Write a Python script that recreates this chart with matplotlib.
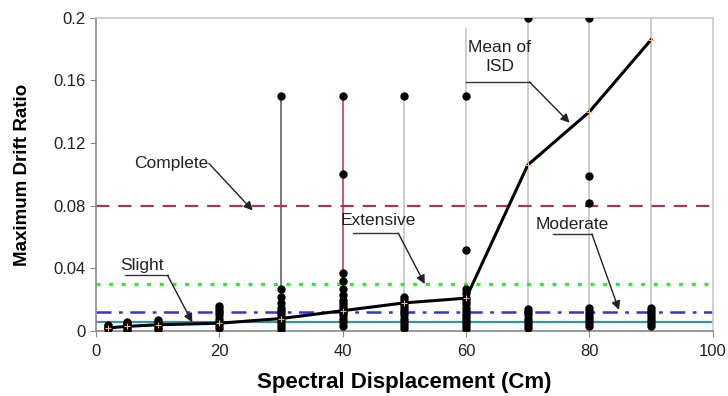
import numpy as np
import matplotlib.pyplot as plt

plt.rcParams['font.family'] = ['Liberation Sans', 'DejaVu Sans']

# spectral displacement stations (cm)
sd = [2, 5, 10, 20, 30, 40, 50, 60, 70, 80, 90]

# maximum drift ratio of each record at every station
drift = [
    [0.001, 0.002, 0.003, 0.004],
    [0.0005, 0.002, 0.003, 0.004, 0.005, 0.006],
    [0.001, 0.002, 0.004, 0.005, 0.006, 0.007],
    [0.002, 0.004, 0.006, 0.008, 0.010, 0.012, 0.014, 0.016],
    [0.001, 0.003, 0.005, 0.007, 0.009, 0.011, 0.013, 0.015, 0.018, 0.022, 0.027, 0.15],
    [0.003, 0.006, 0.008, 0.010, 0.012, 0.014, 0.016, 0.018, 0.020, 0.023, 0.027,
     0.032, 0.037, 0.10, 0.15],
    [0.002, 0.004, 0.006, 0.008, 0.010, 0.012, 0.014, 0.016, 0.018, 0.020, 0.022, 0.15],
    [0.001, 0.003, 0.005, 0.007, 0.009, 0.011, 0.013, 0.015, 0.017, 0.019, 0.021,
     0.024, 0.027, 0.052, 0.15],
    [0.002, 0.004, 0.006, 0.008, 0.010, 0.012, 0.014, 0.2],
    [0.003, 0.005, 0.007, 0.009, 0.011, 0.013, 0.015, 0.082, 0.099, 0.2],
    [0.003, 0.005, 0.007, 0.009, 0.011, 0.013, 0.015],
]

# top of the range line drawn at each station
range_top = [0.004, 0.006, 0.007, 0.016, 0.15, 0.15, 0.15, 0.193, 0.2, 0.2, 0.2]
range_col = ['#c0c0c0'] * 4 + ['#555555', '#cc2a2a'] + ['#c0c0c0'] * 5

# mean of ISD
mean_isd = [0.002, 0.003, 0.004, 0.005, 0.008, 0.013, 0.018, 0.021, 0.106, 0.140, 0.186]

# damage state thresholds
states = ['Complete', 'Extensive', 'Moderate', 'Slight']
limits = [0.08, 0.03, 0.012, 0.006]
st_col = ['#9b3a5a', '#3ee03e', '#3535cc', '#2f9a9a']
st_ls = [(0, (6, 4)), (0, (1.2, 2.6)), (0, (6, 3, 1.5, 3)), '-']
st_lw = [1.6, 2.4, 1.8, 1.6]

fig = plt.figure(figsize=(7.28, 3.96), dpi=100)
ax = fig.add_axes([0.132, 0.164, 0.847, 0.791])

for x, top, c in zip(sd, range_top, range_col):
    ax.plot([x, x], [0, top], color=c, lw=1.1, zorder=1)

for s, v, c, ls, lw in zip(states, limits, st_col, st_ls, st_lw):
    ax.axhline(v, color=c, ls=ls, lw=lw, zorder=2)

for x, ys in zip(sd, drift):
    ax.plot([x] * len(ys), ys, 'o', color='black', ms=5, zorder=3)

ax.plot(sd, mean_isd, color='black', lw=2.2, zorder=4)
ax.plot(sd, mean_isd, '+', color='#f2b77a', ms=5, mew=0.8, zorder=5)

# callouts: text, underline, arrow
callouts = [
    ('Complete', (12.2, 0.107), None, (18.3, 0.107), (25.4, 0.077)),
    ('Extensive', (45.7, 0.0705), (41.7, 49.0, 0.0625), (49.0, 0.0625), (53.3, 0.030)),
    ('Slight', (7.5, 0.042), (4.7, 11.6, 0.0355), (11.6, 0.0355), (15.6, 0.0055)),
    ('Moderate', (77.2, 0.0680), (74.1, 80.4, 0.0620), (80.4, 0.0620), (84.8, 0.0135)),
    ('Mean of\nISD', (65.5, 0.175), (60.0, 70.3, 0.159), (70.3, 0.159), (76.8, 0.1330)),
]
for txt, pos, ul, start, tip in callouts:
    ax.text(pos[0], pos[1], txt, ha='center', va='center', fontsize=12.5,
            color='#222222', linespacing=1.3, zorder=6)
    if ul is not None:
        ax.plot([ul[0], ul[1]], [ul[2], ul[2]], color='#333333', lw=1, zorder=6)
    ax.annotate('', xy=tip, xytext=start,
                arrowprops=dict(arrowstyle='-|>', color='#222222', lw=1,
                                mutation_scale=13, shrinkA=0, shrinkB=0), zorder=6)

ax.set_xlim(0, 100)
ax.set_ylim(0, 0.2)
ax.set_xticks(np.arange(0, 101, 20))
ax.set_yticks([0, 0.04, 0.08, 0.12, 0.16, 0.2])
ax.set_yticklabels(['0', '0.04', '0.08', '0.12', '0.16', '0.2'])
ax.tick_params(labelsize=12, length=4, color='#888888', labelcolor='#222222')
ax.tick_params(axis='x', pad=5)

for side in ['left', 'bottom']:
    ax.spines[side].set_color('#888888')
for side in ['top', 'right']:
    ax.spines[side].set_color('#c8c8c8')
for sp in ax.spines.values():
    sp.set_linewidth(1.2)

ax.set_xlabel('Spectral Displacement (Cm)', fontsize=16, fontweight='bold', labelpad=10)
ax.set_ylabel('Maximum Drift Ratio', fontsize=13.5, fontweight='bold', labelpad=16)

fig.savefig('out.png', dpi=100)
